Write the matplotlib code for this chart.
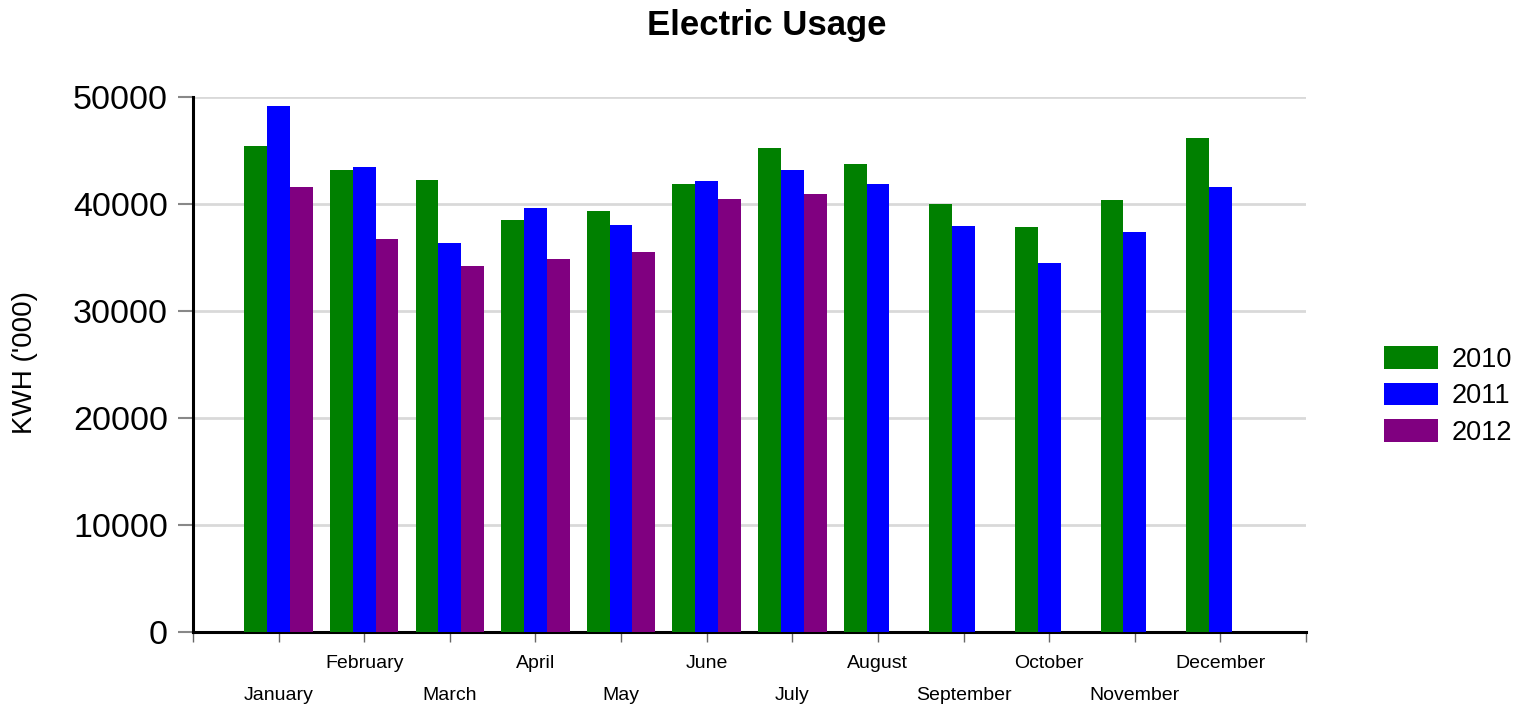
import matplotlib.pyplot as plt
import numpy as np

plt.rcParams['font.family'] = ['Liberation Sans', 'DejaVu Sans']

months = ['January', 'February', 'March', 'April', 'May', 'June',
          'July', 'August', 'September', 'October', 'November', 'December']
years = ['2010', '2011', '2012']
usage_2010 = [45400, 43200, 42250, 38500, 39350, 41850, 45250, 43750, 40000, 37850, 40400, 46150]
usage_2011 = [49150, 43450, 36350, 39650, 38050, 42150, 43200, 41900, 37950, 34500, 37400, 41550]
usage_2012 = [41550, 36750, 34200, 34850, 35500, 40450, 40950]
colors = ['#008000', '#0000ff', '#800080']

fig = plt.figure(figsize=(15.22, 7.06), dpi=100)
ax = fig.add_axes([193 / 1522, 1 - 632 / 706, (1306 - 193) / 1522, (632 - 97) / 706])

x = np.arange(1, len(months) + 1)
w = 0.8 / 3
series = [usage_2010, usage_2011, usage_2012]
for i, (vals, yr) in enumerate(zip(series, years)):
    xs = x[:len(vals)] + (i - 1) * w
    ax.bar(xs, vals, width=w, color=colors[i], label=yr, zorder=3)

ax.set_xlim(0, 13)
ax.set_ylim(0, 50000)
ax.set_yticks([0, 10000, 20000, 30000, 40000, 50000])
ax.tick_params(axis='y', labelsize=24.5, length=11, width=1.5, color='#888888', pad=7)
ax.grid(axis='y', color='#d9d9d9', linewidth=2, zorder=0)

ax.set_xticks(np.arange(0, 14))
ax.set_xticklabels([''] + months + [''])
ax.tick_params(axis='x', labelsize=14, length=7, width=1, color='#666666')
for i, t in enumerate(ax.xaxis.get_major_ticks()):
    if 1 <= i <= 12:
        t.set_pad(9.5 if i % 2 == 0 else 32.5)

for s in ['top', 'right']:
    ax.spines[s].set_visible(False)
ax.spines['left'].set_linewidth(2.2)
ax.spines['bottom'].set_linewidth(2.2)

fig.text(25 / 1522, 1 - 363 / 706, "KWH ('000)", rotation=90, fontsize=20,
         ha='center', va='center')
fig.text(767 / 1522, 1 - 25 / 706, 'Electric Usage', fontsize=25,
         fontweight='bold', ha='center', va='center')

fig.legend(loc='center left', bbox_to_anchor=(1384 / 1522, 1 - 396 / 706),
           frameon=False, fontsize=19.5, borderpad=0, borderaxespad=0,
           handlelength=2.0, handleheight=0.9, handletextpad=0.5,
           labelspacing=0.36)

fig.savefig('out.png', dpi=100)
